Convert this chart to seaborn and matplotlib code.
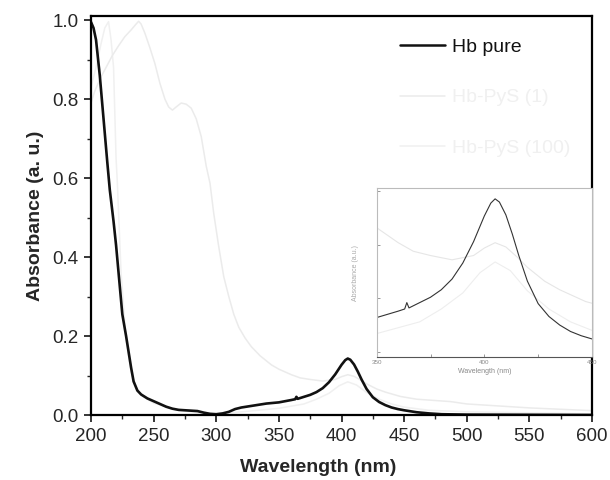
import numpy as np
import pandas as pd
import matplotlib
matplotlib.use("Agg")
import matplotlib.pyplot as plt
import seaborn as sns
from matplotlib.ticker import MultipleLocator

# Data
wl_pure = [200, 202, 204, 207, 210, 213, 215, 218, 220, 222, 225, 228, 230, 232, 234, 237,
           240, 245, 250, 255, 260, 265, 270, 280, 285, 290, 295, 300, 305, 310, 315, 320,
           330, 340, 350, 355, 360, 363, 364, 365, 370, 375, 380, 385, 390, 395, 400, 403,
           405, 407, 410, 413, 416, 420, 425, 430, 435, 440, 445, 450, 460, 470, 480, 500, 600]
abs_pure = [0.995, 0.98, 0.95, 0.86, 0.75, 0.64, 0.57, 0.49, 0.43, 0.36, 0.255, 0.2, 0.16, 0.12, 0.085, 0.062,
            0.052, 0.042, 0.035, 0.028, 0.021, 0.016, 0.013, 0.011, 0.01, 0.006, 0.003, 0.002, 0.004, 0.008, 0.015, 0.019,
            0.024, 0.029, 0.032, 0.035, 0.038, 0.040, 0.046, 0.041, 0.046, 0.051, 0.058, 0.068, 0.083, 0.103, 0.127, 0.139,
            0.143, 0.14, 0.128, 0.11, 0.09, 0.066, 0.045, 0.033, 0.025, 0.019, 0.015, 0.012, 0.007, 0.004, 0.002, 0.001, 0.0]

wl_pys1 = [200, 203, 207, 212, 217, 222, 227, 232, 236, 238, 240, 243, 247, 251, 255, 259,
           262, 265, 268, 272, 276, 280, 284, 288, 292, 295, 298, 302, 306, 310, 314, 318,
           323, 328, 335, 344, 350, 360, 367, 375, 385, 395, 400, 405, 410, 415, 420, 428,
           435, 447, 460, 487, 500, 550, 600]
abs_pys1 = [0.79, 0.82, 0.85, 0.88, 0.91, 0.935, 0.958, 0.975, 0.99, 0.997, 0.99, 0.967, 0.93, 0.89, 0.84, 0.80,
            0.78, 0.772, 0.78, 0.79, 0.787, 0.777, 0.75, 0.705, 0.63, 0.587, 0.51, 0.426, 0.35, 0.30, 0.255, 0.222,
            0.195, 0.173, 0.15, 0.127, 0.116, 0.102, 0.094, 0.09, 0.086, 0.09, 0.097, 0.102, 0.098, 0.089, 0.079, 0.066,
            0.058, 0.047, 0.04, 0.034, 0.028, 0.018, 0.011]

wl_pys100 = [200, 204, 208, 211, 214, 216, 218, 220, 221, 224, 228, 232, 236, 240, 250, 270,
             290, 300, 320, 350, 370, 380, 390, 398, 405, 412, 420, 430, 440, 450, 470, 500, 600]
abs_pys100 = [0.83, 0.88, 0.94, 0.98, 0.996, 0.95, 0.88, 0.65, 0.59, 0.36, 0.19, 0.11, 0.07, 0.05, 0.03, 0.012,
              0.004, 0.003, 0.008, 0.017, 0.028, 0.04, 0.055, 0.074, 0.084, 0.076, 0.057, 0.04, 0.028, 0.02, 0.012, 0.008, 0.003]

labels = ["Hb pure", "Hb-PyS (1)", "Hb-PyS (100)"]
colors = {"Hb pure": "#111111", "Hb-PyS (1)": "#ebebeb", "Hb-PyS (100)": "#f0f0f0"}
draw_order = [labels[2], labels[1], labels[0]]  # light curves first, black on top

df = pd.concat([
    pd.DataFrame({"wl": wl_pure, "abs": abs_pure, "sample": labels[0]}),
    pd.DataFrame({"wl": wl_pys1, "abs": abs_pys1, "sample": labels[1]}),
    pd.DataFrame({"wl": wl_pys100, "abs": abs_pys100, "sample": labels[2]}),
])

sns.set_style("white")
plt.rcParams["font.family"] = ["Liberation Sans", "DejaVu Sans"]

fig = plt.figure(figsize=(6.1, 4.8), dpi=100)
ax = fig.add_axes([0.1492, 0.1354, 0.8213, 0.831])

sns.lineplot(data=df, x="wl", y="abs", hue="sample", hue_order=draw_order,
             palette=colors, estimator=None, sort=False, linewidth=1.1, ax=ax)
for line in ax.lines:
    if line.get_color() == "#111111":
        line.set_linewidth(1.9)

ax.set_xlim(200, 600)
ax.set_ylim(0, 1.01)
ax.xaxis.set_major_locator(MultipleLocator(50))
ax.xaxis.set_minor_locator(MultipleLocator(25))
ax.yaxis.set_major_locator(MultipleLocator(0.2))
ax.yaxis.set_minor_locator(MultipleLocator(0.1))
ax.yaxis.set_major_formatter(matplotlib.ticker.FormatStrFormatter("%.1f"))
ax.tick_params(which="major", direction="out", length=5, width=1.3, labelsize=13.5, pad=4,
               bottom=True, left=True)
ax.tick_params(which="minor", direction="out", length=3, width=1.0, bottom=True, left=True)
for s in ax.spines.values():
    s.set_linewidth(1.6)
    s.set_color("black")
ax.set_xlabel("Wavelength (nm)", fontsize=14, fontweight="bold")
ax.xaxis.set_label_coords(0.453, -0.11)
ax.set_ylabel("Absorbance (a. u.)", fontsize=14, fontweight="bold", labelpad=6)

# legend in original order
handles, lbls = ax.get_legend_handles_labels()
order = [lbls.index(l) for l in labels]
leg = ax.legend([handles[i] for i in order], [lbls[i] for i in order],
                loc="upper left", bbox_to_anchor=(0.617, 0.945), frameon=False,
                borderpad=0, borderaxespad=0,
                fontsize=14, handlelength=2.3, handletextpad=0.35, labelspacing=1.7)
for txt, l in zip(leg.get_texts(), labels):
    txt.set_color("#111111" if l == "Hb pure" else "#f0f0f0")
for h, l in zip(leg.get_lines(), labels):
    h.set_color(colors[l])
    h.set_linewidth(1.8 if l == "Hb pure" else 1.1)

# inset
axin = fig.add_axes([0.6175, 0.256, 0.353, 0.352])
sub = df[(df["wl"] >= 340) & (df["wl"] <= 470)]
sns.lineplot(data=sub, x="wl", y="abs", hue="sample", hue_order=draw_order,
             palette={"Hb pure": "#333333", "Hb-PyS (1)": "#e6e6e6", "Hb-PyS (100)": "#eeeeee"},
             estimator=None, sort=False, linewidth=0.8, legend=False, ax=axin)
axin.set_xlim(350, 450)
axin.set_ylim(-0.005, 0.153)
axin.xaxis.set_major_locator(MultipleLocator(50))
axin.xaxis.set_minor_locator(MultipleLocator(25))
axin.yaxis.set_major_locator(MultipleLocator(0.05))
axin.set_yticklabels([])
axin.tick_params(which="both", direction="in", length=2, width=0.6, labelsize=4.5,
                 labelcolor="#888888", colors="#888888", bottom=True, left=True, pad=2)
for name, s in axin.spines.items():
    s.set_linewidth(0.8)
    s.set_color("#bbbbbb")
axin.spines["bottom"].set_color("#555555")
axin.set_xlabel("Wavelength (nm)", fontsize=5, color="#888888", labelpad=2)
axin.set_ylabel("Absorbance (a.u.)", fontsize=5, color="#aaaaaa", labelpad=11)

fig.savefig("out.png", dpi=100)
